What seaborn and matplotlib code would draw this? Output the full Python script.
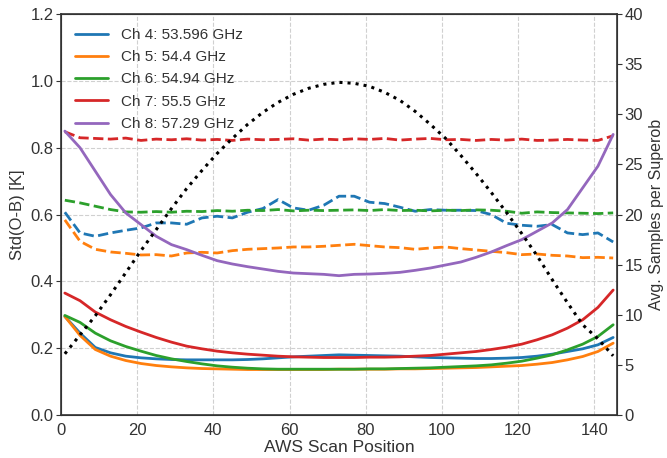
import matplotlib
matplotlib.use("Agg")
import matplotlib.pyplot as plt
import numpy as np
import pandas as pd
import seaborn as sns

# Scan positions at which the statistics are sampled
scan_pos = [1, 5, 9, 13, 17, 21, 25, 29, 33, 37, 41, 45, 49, 53, 57, 61, 65, 69, 73,
            77, 81, 85, 89, 93, 97, 101, 105, 109, 113, 117, 121, 125, 129, 133, 137, 141, 145]

channels = ["Ch 4: 53.596 GHz", "Ch 5: 54.4 GHz", "Ch 6: 54.94 GHz",
            "Ch 7: 55.5 GHz", "Ch 8: 57.29 GHz"]
colors = ["#1f77b4", "#ff7f0e", "#2ca02c", "#d62728", "#9467bd"]

# Std(O-B) after superobbing (solid)
std_ch4 = [0.295, 0.245, 0.202, 0.186, 0.176, 0.171, 0.168, 0.166, 0.165, 0.165, 0.165, 0.165, 0.166,
           0.168, 0.171, 0.174, 0.176, 0.178, 0.180, 0.179, 0.178, 0.177, 0.176, 0.174, 0.172, 0.171,
           0.170, 0.169, 0.169, 0.170, 0.172, 0.176, 0.182, 0.190, 0.198, 0.210, 0.232]
std_ch5 = [0.295, 0.238, 0.196, 0.176, 0.163, 0.154, 0.148, 0.144, 0.141, 0.139, 0.138, 0.137, 0.136,
           0.136, 0.136, 0.136, 0.136, 0.136, 0.137, 0.137, 0.137, 0.137, 0.138, 0.138, 0.139, 0.140,
           0.141, 0.142, 0.144, 0.146, 0.148, 0.152, 0.157, 0.165, 0.175, 0.190, 0.215]
std_ch6 = [0.298, 0.277, 0.245, 0.222, 0.205, 0.191, 0.178, 0.168, 0.160, 0.153, 0.147, 0.143, 0.140,
           0.138, 0.137, 0.137, 0.137, 0.137, 0.137, 0.137, 0.138, 0.138, 0.139, 0.140, 0.141, 0.143,
           0.145, 0.147, 0.150, 0.155, 0.161, 0.170, 0.180, 0.195, 0.212, 0.235, 0.270]
std_ch7 = [0.365, 0.342, 0.308, 0.285, 0.265, 0.248, 0.232, 0.218, 0.206, 0.198, 0.191, 0.186, 0.182,
           0.179, 0.176, 0.174, 0.173, 0.172, 0.172, 0.172, 0.173, 0.173, 0.174, 0.176, 0.178, 0.182,
           0.186, 0.190, 0.196, 0.203, 0.212, 0.225, 0.240, 0.260, 0.285, 0.322, 0.374]
std_ch8 = [0.850, 0.800, 0.730, 0.660, 0.605, 0.570, 0.535, 0.510, 0.495, 0.478, 0.462, 0.452, 0.444,
           0.437, 0.430, 0.425, 0.423, 0.421, 0.417, 0.421, 0.422, 0.424, 0.427, 0.433, 0.440, 0.449,
           0.458, 0.472, 0.488, 0.507, 0.525, 0.550, 0.575, 0.615, 0.680, 0.745, 0.840]

# Std(O-B) of the raw observations (dashed)
raw_ch4 = [0.607, 0.545, 0.535, 0.545, 0.553, 0.560, 0.575, 0.575, 0.571, 0.590, 0.595, 0.590, 0.607,
           0.618, 0.645, 0.620, 0.613, 0.628, 0.655, 0.655, 0.637, 0.633, 0.622, 0.610, 0.615, 0.613,
           0.613, 0.612, 0.600, 0.574, 0.568, 0.565, 0.570, 0.545, 0.540, 0.545, 0.518]
raw_ch5 = [0.584, 0.520, 0.496, 0.488, 0.484, 0.479, 0.480, 0.476, 0.485, 0.487, 0.485, 0.492, 0.496,
           0.498, 0.500, 0.503, 0.503, 0.505, 0.508, 0.511, 0.507, 0.503, 0.501, 0.496, 0.500, 0.503,
           0.498, 0.494, 0.490, 0.486, 0.480, 0.482, 0.478, 0.476, 0.471, 0.472, 0.470]
raw_ch6 = [0.643, 0.635, 0.625, 0.615, 0.608, 0.607, 0.609, 0.607, 0.610, 0.609, 0.612, 0.610, 0.613,
           0.612, 0.615, 0.611, 0.613, 0.612, 0.613, 0.614, 0.612, 0.615, 0.612, 0.613, 0.611, 0.613,
           0.612, 0.614, 0.613, 0.610, 0.604, 0.608, 0.606, 0.605, 0.604, 0.603, 0.605]
raw_ch7 = [0.848, 0.830, 0.828, 0.826, 0.829, 0.822, 0.826, 0.824, 0.827, 0.823, 0.825, 0.822, 0.826,
           0.824, 0.825, 0.827, 0.823, 0.826, 0.824, 0.827, 0.825, 0.828, 0.823, 0.826, 0.828, 0.824,
           0.825, 0.822, 0.825, 0.823, 0.826, 0.822, 0.823, 0.825, 0.823, 0.822, 0.836]

# Average number of raw samples per superob
samples = [6.1, 8.0, 9.9, 12.0, 14.2, 16.4, 18.5, 20.6, 22.6, 24.4, 26.1, 27.6, 29.0,
           30.2, 31.2, 32.0, 32.6, 33.0, 33.2, 33.1, 32.8, 32.2, 31.4, 30.3, 29.0, 27.6,
           25.9, 24.1, 22.2, 20.2, 18.1, 15.9, 13.5, 11.2, 9.0, 7.6, 5.9]

std_superob = [std_ch4, std_ch5, std_ch6, std_ch7, std_ch8]
std_raw = [raw_ch4, raw_ch5, raw_ch6, raw_ch7, None]

sns.set_style("whitegrid", {
    "grid.linestyle": "--",
    "grid.color": "#d0d0d0",
    "axes.edgecolor": "#333333",
    "axes.linewidth": 1.2,
})
plt.rcParams["font.family"] = ["Liberation Sans", "DejaVu Sans"]
plt.rcParams["text.color"] = "#333333"
plt.rcParams["axes.labelcolor"] = "#333333"
plt.rcParams["xtick.color"] = "#333333"
plt.rcParams["ytick.color"] = "#333333"

fig, ax = plt.subplots(figsize=(6.67, 4.58), dpi=100)
fig.subplots_adjust(left=0.0915, right=0.925, top=0.969, bottom=0.094)

for name, col, solid, dashed in zip(channels, colors, std_superob, std_raw):
    sns.lineplot(x=scan_pos, y=solid, ax=ax, color=col, lw=2.0, label=name)
    if dashed is not None:
        sns.lineplot(x=scan_pos, y=dashed, ax=ax, color=col, lw=2.0,
                     linestyle="--", legend=False)

ax.set_xlim(0, 146)
ax.set_ylim(0, 1.2)
ax.set_yticks(np.arange(0, 1.21, 0.2))
ax.set_xticks(np.arange(0, 141, 20))
ax.set_xlabel("AWS Scan Position", fontsize=12.5, labelpad=2)
ax.set_ylabel("Std(O-B) [K]", fontsize=12)
ax.tick_params(axis="both", labelsize=12, pad=2)

ax2 = ax.twinx()
sns.lineplot(x=scan_pos, y=samples, ax=ax2, color="black", lw=2.2,
             linestyle=":", legend=False)
ax2.set_ylim(0, 40)
ax2.set_yticks(np.arange(0, 41, 5))
ax2.grid(False)
ax2.set_ylabel("Avg. Samples per Superob", fontsize=11.5)
ax2.tick_params(axis="y", labelsize=12, pad=2)
for s in ax2.spines.values():
    s.set_edgecolor("#333333")
    s.set_linewidth(1.2)

leg = ax.legend(loc="upper left", frameon=False, fontsize=11,
                handlelength=2.2, handletextpad=0.8,
                borderaxespad=0.5, labelspacing=0.54)

fig.savefig("out.png", dpi=100)
